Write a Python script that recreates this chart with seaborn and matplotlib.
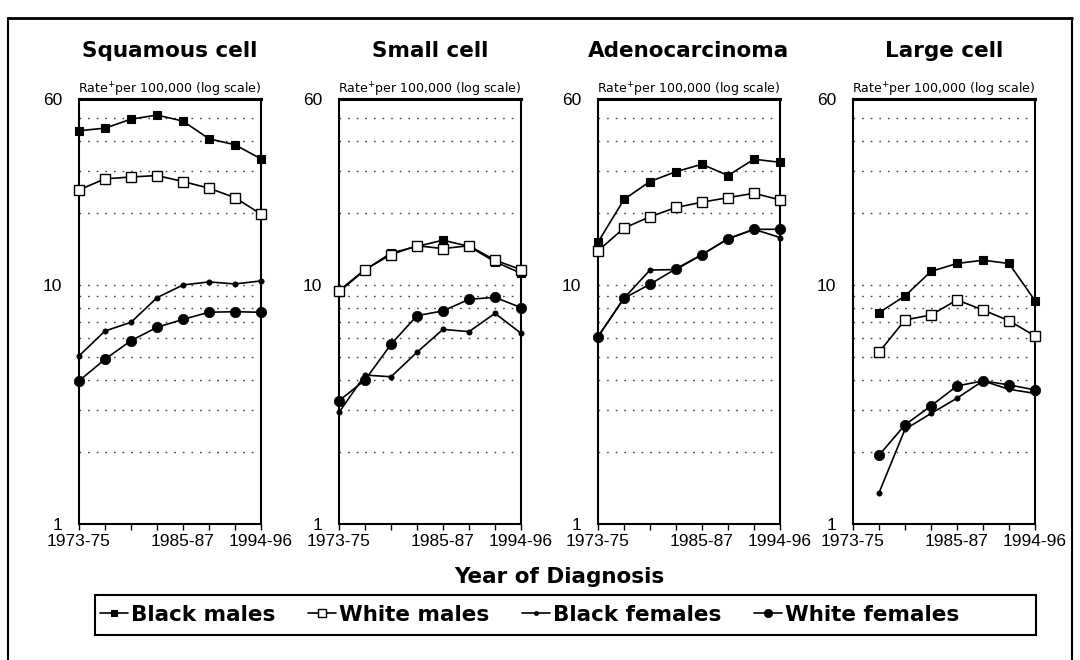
import numpy as np
import pandas as pd
import matplotlib
matplotlib.use("Agg")
import matplotlib.pyplot as plt
import seaborn as sns
from matplotlib.lines import Line2D
from matplotlib.patches import Rectangle
from matplotlib.ticker import NullFormatter

# ---------------- data ----------------
periods = ["1973-75", "1976-78", "1979-81", "1982-84", "1985-87", "1988-90", "1991-93", "1994-96"]
tick_labels = ["1973-75", "", "", "", "1985-87", "", "", "1994-96"]
panels = ["Squamous cell", "Small cell", "Adenocarcinoma", "Large cell"]
series_names = ["Black males", "White males", "Black females", "White females"]

squamous_black_males = [44.2, 45.3, 49.4, 51.4, 48.5, 40.9, 38.6, 33.7]
squamous_white_males = [25.0, 27.8, 28.3, 28.7, 27.1, 25.4, 23.2, 19.8]
squamous_black_females = [5.05, 6.42, 6.98, 8.85, 10.0, 10.3, 10.1, 10.4]
squamous_white_females = [3.97, 4.89, 5.85, 6.65, 7.18, 7.69, 7.73, 7.69]

small_black_males = [9.37, 11.55, 13.6, 14.5, 15.4, 14.5, 12.5, 11.2]
small_white_males = [9.47, 11.6, 13.4, 14.6, 14.2, 14.6, 12.7, 11.6]
small_black_females = [2.93, 4.20, 4.13, 5.23, 6.52, 6.38, 7.61, 6.28]
small_white_females = [3.28, 4.00, 5.65, 7.44, 7.79, 8.71, 8.88, 8.04]

adeno_black_males = [15.1, 22.8, 27.1, 29.8, 32.0, 28.7, 33.6, 32.6]
adeno_white_males = [13.9, 17.3, 19.3, 21.1, 22.2, 23.2, 24.2, 22.7]
adeno_black_females = [6.08, 8.80, 11.55, 11.6, 13.4, 15.6, 17.1, 15.8]
adeno_white_females = [6.08, 8.80, 10.07, 11.7, 13.4, 15.6, 17.1, 17.1]

large_black_males = [np.nan, 7.66, 9.0, 11.4, 12.3, 12.7, 12.3, 8.6]
large_white_males = [np.nan, 5.23, 7.14, 7.49, 8.66, 7.86, 7.09, 6.12]
large_black_females = [np.nan, 1.35, 2.49, 2.90, 3.36, 3.97, 3.66, 3.52]
large_white_females = [np.nan, 1.94, 2.60, 3.12, 3.78, 3.97, 3.82, 3.64]

panel_data = {
    "Squamous cell": [squamous_black_males, squamous_white_males, squamous_black_females, squamous_white_females],
    "Small cell": [small_black_males, small_white_males, small_black_females, small_white_females],
    "Adenocarcinoma": [adeno_black_males, adeno_white_males, adeno_black_females, adeno_white_females],
    "Large cell": [large_black_males, large_white_males, large_black_females, large_white_females],
}

# ---------------- styles ----------------
styles = {
    "Black males": dict(marker="s", markersize=5.5, markerfacecolor="black", markeredgecolor="black", markeredgewidth=0.8),
    "White males": dict(marker="s", markersize=7.5, markerfacecolor="white", markeredgecolor="black", markeredgewidth=1.0),
    "Black females": dict(marker="o", markersize=3.8, markerfacecolor="black", markeredgecolor="black", markeredgewidth=0.5),
    "White females": dict(marker="o", markersize=7.5, markerfacecolor="black", markeredgecolor="black", markeredgewidth=0.5),
}

sns.set_style("white")
plt.rcParams["font.family"] = ["Liberation Sans", "DejaVu Sans"]
plt.rcParams["text.color"] = "black"
plt.rcParams["axes.labelcolor"] = "black"
plt.rcParams["xtick.color"] = "black"
plt.rcParams["ytick.color"] = "black"
plt.rcParams["mathtext.fontset"] = "dejavusans"

W, H = 1080, 660
fig = plt.figure(figsize=(W / 100, H / 100), dpi=100)

def fx(px):
    return px / W

def fy(py):
    return 1 - py / H

panel_left = [79, 339, 598, 853]
panel_w = 182
ax_top, ax_bot = 99, 524

x_idx = np.arange(len(periods))
for pi, pname in enumerate(panels):
    ax = fig.add_axes([fx(panel_left[pi]), fy(ax_bot), panel_w / W, (ax_bot - ax_top) / H])
    for si, sname in enumerate(series_names):
        df = pd.DataFrame({"x": x_idx, "rate": panel_data[pname][si]}).dropna()
        sns.lineplot(data=df, x="x", y="rate", ax=ax, color="black", linewidth=1.2,
                     clip_on=False, zorder=3 + si, **styles[sname])
    ax.set_yscale("log")
    ax.set_ylim(1, 60)
    ax.set_xlim(0, 7)
    ax.set_xticks(x_idx)
    ax.set_xticklabels(tick_labels)
    ax.set_yticks([1, 10, 60])
    ax.set_yticklabels(["1", "10", "60"])
    ax.set_yticks([2, 3, 4, 5, 6, 7, 8, 9, 20, 30, 40, 50], minor=True)
    ax.yaxis.set_minor_formatter(NullFormatter())
    ax.grid(False)
    ax.grid(True, which="both", axis="y", color="black", linestyle=(0, (1.2, 5)), linewidth=1.0, alpha=0.75)
    ax.set_xlabel("")
    ax.set_ylabel("")
    ax.tick_params(axis="y", which="both", length=0, pad=12, labelsize=12.5, labelcolor="black")
    ax.tick_params(axis="x", which="both", length=4, width=1, pad=3, labelsize=12.5, direction="out",
                   bottom=True, labelcolor="black", color="black")
    for sp in ax.spines.values():
        sp.set_visible(True)
        sp.set_color("black")
        sp.set_linewidth(1.5)
    ax.spines["top"].set_linewidth(2.2)
    leg = ax.get_legend()
    if leg is not None:
        leg.remove()

    cx = panel_left[pi] + panel_w / 2
    fig.text(fx(cx), fy(57), pname, ha="center", va="baseline", fontsize=15.5,
             fontweight="bold", family="DejaVu Sans", color="black")
    fig.text(fx(cx), fy(94), "Rate$^{+}$per 100,000 (log scale)", ha="center", va="baseline",
             fontsize=9.0, family="DejaVu Sans", color="black")

fig.text(fx(559), fy(577), "Year of Diagnosis", ha="center", va="center",
         fontsize=15.5, fontweight="bold", family="DejaVu Sans", color="black")

handles = [Line2D([0], [0], color="black", linewidth=1.2, **styles[s]) for s in series_names]
for h, s in zip(handles, series_names):
    h.set_markersize(styles[s]["markersize"] * 0.8)
fig.legend(handles, series_names, ncol=4, loc="center left",
           bbox_to_anchor=(fx(100), fy(615)), frameon=False,
           prop=dict(family="DejaVu Sans", weight="bold", size=15.5),
           handlelength=1.3, handletextpad=0.15, columnspacing=1.5, borderaxespad=0, borderpad=0,
           labelcolor="black")

fig.add_artist(Rectangle((fx(95), fy(635)), fx(1036) - fx(95), fy(595) - fy(635),
                         transform=fig.transFigure, fill=False, edgecolor="black", linewidth=1.5))
# outer frame (left, top, right)
fig.add_artist(Line2D([fx(8), fx(8)], [fy(18), 0], transform=fig.transFigure, color="black", linewidth=1.5))
fig.add_artist(Line2D([fx(8), fx(1072)], [fy(18), fy(18)], transform=fig.transFigure, color="black", linewidth=2))
fig.add_artist(Line2D([fx(1072), fx(1072)], [fy(18), 0], transform=fig.transFigure, color="black", linewidth=1.5))

fig.savefig("out.png", dpi=100, facecolor="white")
